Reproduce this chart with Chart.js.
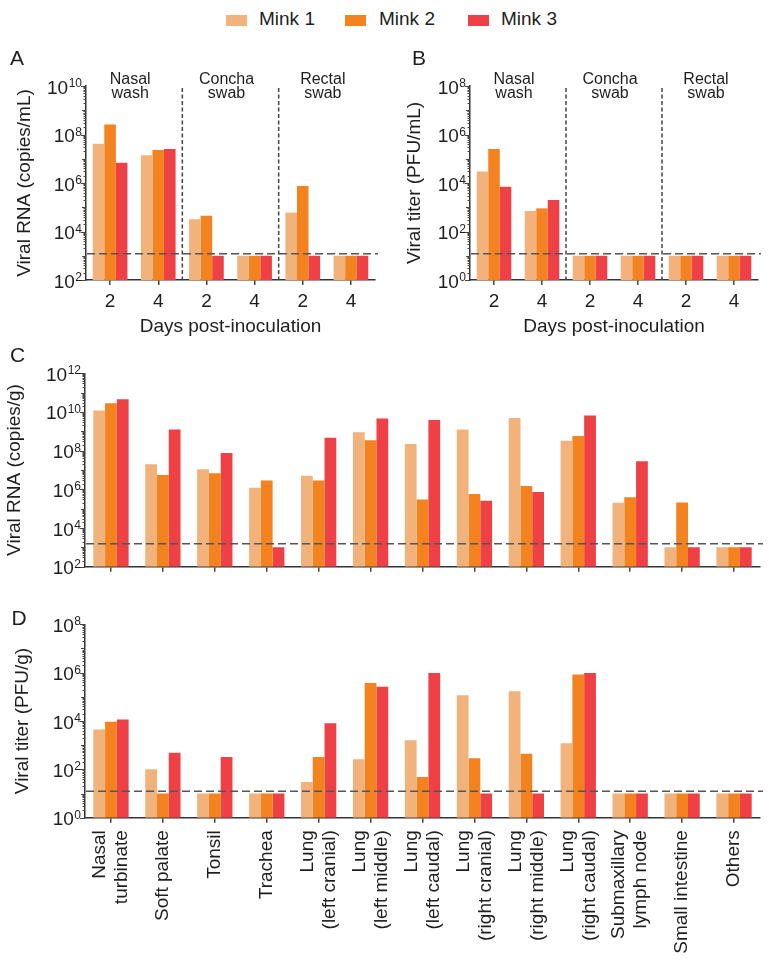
<!DOCTYPE html>
<html>
<head>
<meta charset="utf-8">
<script src="https://cdn.jsdelivr.net/npm/chart.js@4.4.1/dist/chart.umd.min.js"></script>
<style>
html,body{margin:0;padding:0;background:#fff;}
#fig{position:relative;width:768px;height:964px;overflow:hidden;font-family:'Liberation Sans',Arial,sans-serif;color:#1e1e1e;}
#fig canvas{position:absolute;}
.lg-box{position:absolute;width:21px;height:11px;}
.lg-txt{position:absolute;font-size:19px;line-height:22px;white-space:nowrap;}
</style>
</head>
<body>
<div id="fig">
  <div id="legend"></div>
  <canvas id="cA" width="384" height="300" style="left:0px;top:40px"></canvas>
  <canvas id="cB" width="384" height="300" style="left:384px;top:40px"></canvas>
  <canvas id="cC" width="768" height="240" style="left:0px;top:340px"></canvas>
  <canvas id="cD" width="768" height="384" style="left:0px;top:580px"></canvas>
</div>
<script>
// ---------------- DATA ----------------
const minkNames = ['Mink 1', 'Mink 2', 'Mink 3'];
const minkColors = ['#F2B27B', '#F3821F', '#EE4045'];

// Panels A & B: swabs / washes, days post-inoculation
const dayLabels = ['2', '4', '2', '4', '2', '4'];
const sampleGroups = [['Nasal', 'wash'], ['Concha', 'swab'], ['Rectal', 'swab']];

const rnaSwabMink1 = [4.2e7, 1.4e7, 3.2e4, 1e3, 6.0e4, 1e3];
const rnaSwabMink2 = [2.6e8, 2.3e7, 4.5e4, 1e3, 7.5e5, 1e3];
const rnaSwabMink3 = [6.9e6, 2.5e7, 1e3, 1e3, 1e3, 1e3];
const rnaSwabLOD = 1.2e3;

const titerSwabMink1 = [3.0e4, 7.0e2, 10, 10, 10, 10];
const titerSwabMink2 = [2.5e5, 9.0e2, 10, 10, 10, 10];
const titerSwabMink3 = [7.0e3, 2.0e3, 10, 10, 10, 10];
const titerSwabLOD = 12;

// Panels C & D: tissues
const tissueLabels = [
  ['Nasal', 'turbinate'], ['Soft palate'], ['Tonsil'], ['Trachea'],
  ['Lung', '(left cranial)'], ['Lung', '(left middle)'], ['Lung', '(left caudal)'],
  ['Lung', '(right cranial)'], ['Lung', '(right middle)'], ['Lung', '(right caudal)'],
  ['Submaxillary', 'lymph node'], ['Small intestine'], ['Others']
];

const rnaTissueMink1 = [1.2e10, 2.0e7, 1.1e7, 1.2e6, 5.1e6, 9.0e8, 2.2e8, 1.25e9, 4.9e9, 3.3e8, 2.0e5, 1e3, 1e3];
const rnaTissueMink2 = [2.8e10, 5.5e6, 6.7e6, 2.9e6, 2.9e6, 3.5e8, 3.0e5, 5.8e5, 1.5e6, 5.8e8, 3.9e5, 2.1e5, 1e3];
const rnaTissueMink3 = [4.5e10, 1.25e9, 7.6e7, 1e3, 4.6e8, 4.6e9, 3.9e9, 2.6e5, 7.3e5, 6.5e9, 2.8e7, 1e3, 1e3];
const rnaTissueLOD = 1.55e3;

const titerTissueMink1 = [4.4e3, 100, 10, 10, 30, 260, 1.6e3, 1.15e5, 1.7e5, 1.2e3, 10, 10, 10];
const titerTissueMink2 = [9.3e3, 10, 10, 10, 325, 3.7e5, 48, 290, 440, 8.3e5, 10, 10, 10];
const titerTissueMink3 = [1.15e4, 490, 325, 10, 8.0e3, 2.6e5, 9.7e5, 10, 10, 9.7e5, 10, 10, 10];
const titerTissueLOD = 12.5;

// ---------------- RENDERING ----------------
const FF = "'Liberation Sans', Arial, sans-serif";
const TXT = '#1e1e1e';
const AX = '#333333';
Chart.defaults.font.family = FF;
Chart.defaults.color = TXT;

// legend (HTML)
(function () {
  const lg = document.getElementById('legend');
  const boxX = [226, 345, 468], txtX = [259, 379, 501];
  minkNames.forEach((n, i) => {
    const b = document.createElement('div');
    b.className = 'lg-box';
    b.style.left = boxX[i] + 'px'; b.style.top = '15px'; b.style.background = minkColors[i];
    lg.appendChild(b);
    const t = document.createElement('div');
    t.className = 'lg-txt';
    t.style.left = txtX[i] + 'px'; t.style.top = '8px';
    t.textContent = n;
    lg.appendChild(t);
  });
})();

const deco = {
  id: 'deco',
  afterDatasetsDraw(chart, args, o) {
    const {ctx, chartArea: ca} = chart;
    const x = chart.scales.x, y = chart.scales.y;
    ctx.save();
    (o.separators || []).forEach(i => {
      const px = (x.getPixelForTick(i) + x.getPixelForTick(i + 1)) / 2;
      ctx.strokeStyle = '#444'; ctx.lineWidth = 1.5; ctx.setLineDash([4, 2.5]);
      ctx.beginPath(); ctx.moveTo(px, ca.top + 2); ctx.lineTo(px, ca.bottom); ctx.stroke();
    });
    if (o.lod) {
      const py = y.getPixelForValue(o.lod);
      ctx.strokeStyle = '#555'; ctx.lineWidth = 1.5; ctx.setLineDash([8, 4]);
      ctx.beginPath(); ctx.moveTo(ca.left + 1, py); ctx.lineTo(ca.right + 3, py); ctx.stroke();
    }
    ctx.restore();
  },
  afterDraw(chart, args, o) {
    const {ctx, chartArea: ca} = chart;
    const x = chart.scales.x, y = chart.scales.y;
    ctx.save();
    // y ticks (log, major + minor)
    const e0 = Math.round(Math.log10(y.min)), e1 = Math.round(Math.log10(y.max));
    ctx.strokeStyle = '#444'; ctx.lineWidth = 1;
    for (let e = e0; e <= e1; e++) {
      for (let m = 1; m <= 9; m++) {
        if (e === e1 && m > 1) break;
        const py = Math.round(y.getPixelForValue(m * Math.pow(10, e))) + 0.5;
        const len = m === 1 ? ((e - e0) % 2 === 0 ? 5 : 4) : 2.5;
        ctx.beginPath(); ctx.moveTo(ca.left, py); ctx.lineTo(ca.left - len, py); ctx.stroke();
      }
    }
    // y labels 10^n
    ctx.fillStyle = TXT; ctx.textAlign = 'left'; ctx.textBaseline = 'alphabetic';
    for (let e = e0; e <= e1; e += 2) {
      const py = y.getPixelForValue(Math.pow(10, e));
      ctx.font = '19px ' + FF; const wb = ctx.measureText('10').width;
      ctx.font = '12px ' + FF; const we = ctx.measureText(String(e)).width;
      const xr = ca.left - 4;
      ctx.fillText(String(e), xr - we, py + 1);
      ctx.font = '19px ' + FF;
      ctx.fillText('10', xr - we - wb - 0.5, py + 7.5);
    }
    // group headers
    if (o.headers) {
      ctx.font = '16px ' + FF; ctx.textAlign = 'center';
      o.headers.forEach((lines, g) => {
        const cx = (x.getPixelForTick(2 * g) + x.getPixelForTick(2 * g + 1)) / 2 - 4;
        lines.forEach((ln, j) => ctx.fillText(ln, cx, ca.top - 2.5 + j * 14.5));
      });
    }
    // rotated category labels
    if (o.rotLabels) {
      ctx.font = '19px ' + FF; ctx.textAlign = 'right'; ctx.textBaseline = 'middle';
      o.rotLabels.forEach((lines, i) => {
        const px = x.getPixelForTick(i);
        lines.forEach((ln, j) => {
          const cx = px + (j - (lines.length - 1) / 2) * 22;
          ctx.save(); ctx.translate(cx, ca.bottom + 12.5); ctx.rotate(-Math.PI / 2);
          ctx.fillText(ln, 0, 0); ctx.restore();
        });
      });
    }
    // panel letter
    if (o.letter) {
      ctx.font = '21px ' + FF; ctx.textAlign = 'left'; ctx.textBaseline = 'alphabetic';
      ctx.fillText(o.letter, o.letterX, o.letterY);
    }
    ctx.restore();
  }
};

function makeChart(id, labels, series, yMin, yMax, cfg) {
  return new Chart(document.getElementById(id), {
    type: 'bar',
    data: {
      labels: labels,
      datasets: series.map((d, i) => ({
        label: minkNames[i], data: d, backgroundColor: minkColors[i], borderWidth: 0,
        categoryPercentage: cfg.cat, barPercentage: 1
      }))
    },
    options: {
      responsive: false, animation: false, devicePixelRatio: 1,
      layout: {padding: cfg.pad},
      plugins: {legend: {display: false}, tooltip: {enabled: false}, deco: cfg.deco},
      scales: {
        x: {
          grid: {display: true, drawOnChartArea: false, drawTicks: true, tickLength: 5, offset: false, color: '#444', lineWidth: 1.5},
          border: {display: true, color: AX, width: 1.5},
          ticks: {display: cfg.xTicks, autoSkip: false, maxRotation: 0, font: {size: 19}, color: TXT, padding: 5},
          title: cfg.xTitle ? {display: true, text: cfg.xTitle, font: {size: 19}, color: TXT, padding: {top: 0, bottom: 2}} : {display: false},
          afterFit: s => { s.height = cfg.xH; }
        },
        y: {
          type: 'logarithmic', min: yMin, max: yMax,
          grid: {display: false},
          border: {display: true, color: AX, width: 1.5},
          ticks: {display: false},
          title: {display: true, text: cfg.yTitle, font: {size: 19}, color: TXT, padding: {top: cfg.yTitlePad, bottom: 0}},
          afterFit: s => { s.width = cfg.yW; }
        }
      }
    },
    plugins: [deco]
  });
}

makeChart('cA', dayLabels, [rnaSwabMink1, rnaSwabMink2, rnaSwabMink3], 1e2, 1e10, {
  cat: 0.72, pad: {left: 0, right: 9, top: 46, bottom: 0}, yW: 86, xH: 60,
  xTicks: true, xTitle: 'Days post-inoculation', yTitle: 'Viral RNA (copies/mL)', yTitlePad: 13.6,
  deco: {separators: [1, 3], lod: rnaSwabLOD, headers: sampleGroups, letter: 'A', letterX: 10, letterY: 25}
});
makeChart('cB', dayLabels, [titerSwabMink1, titerSwabMink2, titerSwabMink3], 1, 1e8, {
  cat: 0.72, pad: {left: 0, right: 10, top: 46, bottom: 0}, yW: 86, xH: 60,
  xTicks: true, xTitle: 'Days post-inoculation', yTitle: 'Viral titer (PFU/mL)', yTitlePad: 19.6,
  deco: {separators: [1, 3], lod: titerSwabLOD, headers: sampleGroups, letter: 'B', letterX: 28, letterY: 25}
});
makeChart('cC', tissueLabels, [rnaTissueMink1, rnaTissueMink2, rnaTissueMink3], 1e2, 1e12, {
  cat: 0.68, pad: {left: 0, right: 8, top: 33.3, bottom: 0}, yW: 85, xH: 13.3,
  xTicks: false, xTitle: null, yTitle: 'Viral RNA (copies/g)', yTitlePad: 3.6,
  deco: {lod: rnaTissueLOD, letter: 'C', letterX: 10, letterY: 21.7}
});
makeChart('cD', tissueLabels, [titerTissueMink1, titerTissueMink2, titerTissueMink3], 1, 1e8, {
  cat: 0.68, pad: {left: 0, right: 8, top: 44.3, bottom: 0}, yW: 85, xH: 146.3,
  xTicks: false, xTitle: null, yTitle: 'Viral titer (PFU/g)', yTitlePad: 11.6,
  deco: {lod: titerTissueLOD, rotLabels: tissueLabels, letter: 'D', letterX: 11.5, letterY: 45}
});
</script>
</body>
</html>
